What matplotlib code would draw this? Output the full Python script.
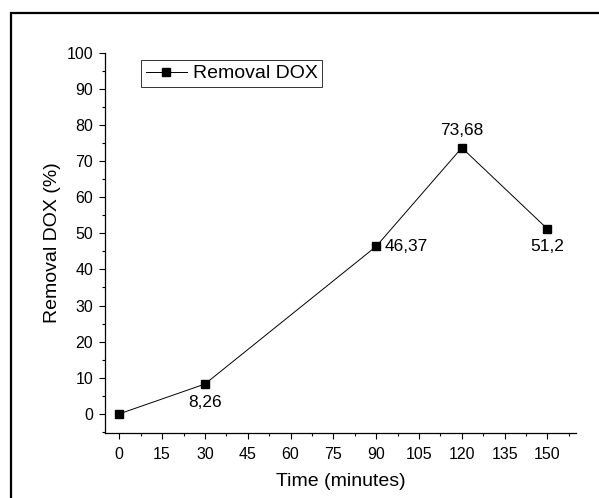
import numpy as np
import matplotlib.pyplot as plt
from matplotlib.patches import Rectangle
from matplotlib.ticker import MultipleLocator

# data
time_min = [0, 30, 90, 120, 150]
removal = [0, 8.26, 46.37, 73.68, 51.2]
labels = ["", "8,26", "46,37", "73,68", "51,2"]

plt.rcParams['font.family'] = ['Liberation Sans', 'DejaVu Sans']

fig = plt.figure(figsize=(5.99, 4.98), dpi=100)
ax = fig.add_axes([0.1753, 0.1305, 0.7863, 0.7637])

# outer frame (only left and top edges visible)
fig.patches.append(Rectangle((11 / 599, -0.2), 2.0, 1.2 - 13 / 498,
                             transform=fig.transFigure, fill=False,
                             edgecolor='black', linewidth=1.6))

ax.plot(time_min, removal, color='black', linewidth=0.7, marker='s',
        markersize=6, label='Removal DOX')

# value labels
ax.annotate(labels[1], (time_min[1], removal[1]), xytext=(0, -13),
            textcoords='offset points', ha='center', va='center', fontsize=12.5)
ax.annotate(labels[2], (time_min[2], removal[2]), xytext=(6, 0),
            textcoords='offset points', ha='left', va='center', fontsize=12.5)
ax.annotate(labels[3], (time_min[3], removal[3]), xytext=(0, 12.5),
            textcoords='offset points', ha='center', va='center', fontsize=12.5)
ax.annotate(labels[4], (time_min[4], removal[4]), xytext=(0, -13),
            textcoords='offset points', ha='center', va='center', fontsize=12.5)

ax.set_xlim(-5, 160)
ax.set_ylim(-5.3, 100)
ax.xaxis.set_minor_locator(MultipleLocator(7.5))
ax.yaxis.set_minor_locator(MultipleLocator(5))
ax.set_xticks(np.arange(0, 151, 15))
ax.set_yticks(np.arange(0, 101, 10))

ax.spines['top'].set_visible(False)
ax.spines['right'].set_visible(False)
for s in ['left', 'bottom']:
    ax.spines[s].set_linewidth(0.9)

ax.tick_params(which='major', direction='out', length=4, width=0.8,
               labelsize=11.5, pad=4.5)
ax.tick_params(which='minor', direction='out', length=2.2, width=0.8)
ax.tick_params(axis='x', which='major', pad=6)

ax.set_xlabel('Time (minutes)', fontsize=14, labelpad=8)
ax.set_ylabel('Removal DOX (%)', fontsize=14, labelpad=4)

leg = ax.legend(loc='upper left', bbox_to_anchor=(0.0764, 0.981),
                borderaxespad=0, fontsize=14, frameon=True, fancybox=False,
                handlelength=2.1, handletextpad=0.3, borderpad=0.25)
leg.get_frame().set_edgecolor('black')
leg.get_frame().set_linewidth(0.7)

plt.savefig('out.png', dpi=100)
